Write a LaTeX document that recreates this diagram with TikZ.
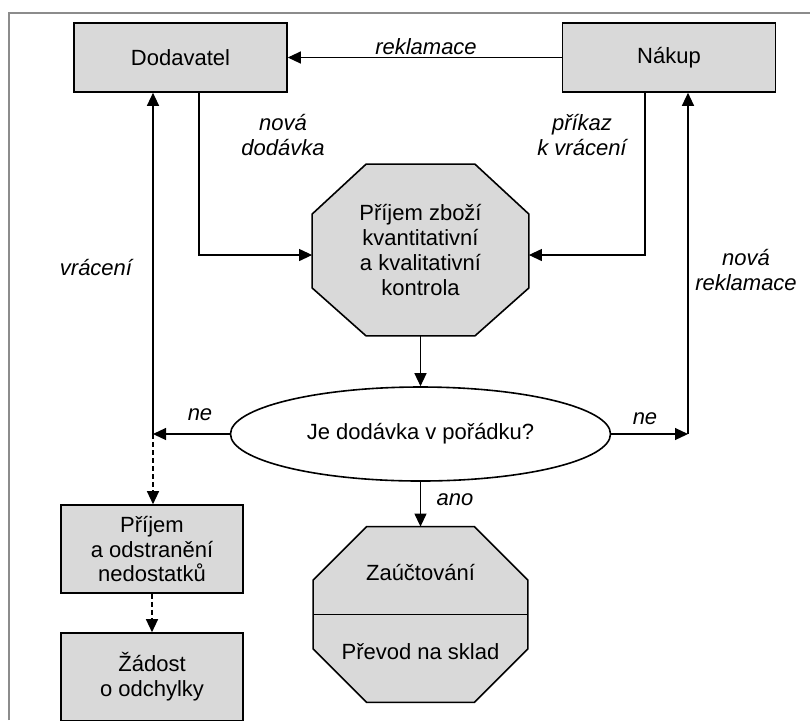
\documentclass[tikz,border=0pt]{standalone}
\usepackage{fontspec}
\setmainfont{Liberation Sans}
\usetikzlibrary{shapes.geometric, arrows.meta, backgrounds, calc}

\begin{document}
\begin{tikzpicture}[
    x=0.5pt, y=-0.5pt,
    box/.style={rectangle, draw, fill=black!15, line width=0.8pt, minimum width=91pt, minimum height=44pt, inner sep=0pt, align=center, font=\fontsize{11}{12.4}\selectfont},
    headbox/.style={box, minimum width=106.5pt, minimum height=34.5pt},
    octbox/.style={rectangle, inner sep=0pt, align=center, font=\fontsize{11}{12.4}\selectfont},
    octfill/.style={draw, fill=black!15, line width=0.8pt},
    decision/.style={ellipse, draw, fill=white, line width=0.8pt, minimum width=190pt, minimum height=47pt, inner sep=0pt, font=\fontsize{11}{12.4}\selectfont},
    arrow/.style={-{Triangle[length=6.5pt, width=6pt]}, line width=0.6pt},
    dasharrow/.style={arrow, dash pattern=on 2.5pt off 1.5pt},
    edgetext/.style={font=\fontsize{11}{12.4}\selectfont\itshape, align=center, inner sep=0pt}
]
    \useasboundingbox (0,0) rectangle (810,720);
    \draw[black!45, line width=0.8pt] (9,720) -- (9,13) -- (810,13);

    \node[headbox] (dod) at (180.5, 57.5) {Dodavatel};
    \node[headbox] (nak) at (669, 57.5) {Nákup};
    \node[octbox, minimum width=108pt, minimum height=85.5pt] (prijem) at (420.5, 250) {Příjem zboží\\kvantitativní\\a kvalitativní\\kontrola};
    \node[decision] (otazka) at (420.5, 434) {Je dodávka v pořádku?};
    \node[octbox, minimum width=107pt, minimum height=87.5pt] (post) at (420.5, 614.5) {};
    \node[octbox] (zauct) at (420.5, 572) {Zaúčtování};
    \node[octbox] (prevod) at (420.5, 652) {Převod na sklad};
    \node[box] (odstr) at (152, 549) {Příjem\\a odstranění\\nedostatků};
    \node[box] (zadost) at (152, 677) {Žádost\\o odchylky};

    \begin{scope}[on background layer]
        \draw[octfill] ($(prijem.north west)+(54,0)$) -- ($(prijem.north east)+(-54,0)$) -- ($(prijem.north east)+(0,50)$) -- ($(prijem.south east)+(0,-48)$) -- ($(prijem.south east)+(-54,0)$) -- ($(prijem.south west)+(54,0)$) -- ($(prijem.south west)+(0,-48)$) -- ($(prijem.north west)+(0,50)$) -- cycle;
        \draw[octfill] ($(post.north west)+(53.5,0)$) -- ($(post.north east)+(-53.5,0)$) -- ($(post.north east)+(0,53.5)$) -- ($(post.south east)+(0,-53.5)$) -- ($(post.south east)+(-53.5,0)$) -- ($(post.south west)+(53.5,0)$) -- ($(post.south west)+(0,-53.5)$) -- ($(post.north west)+(0,53.5)$) -- cycle;
    \end{scope}
    \draw[line width=0.8pt] (post.west) -- (post.east);

    \coordinate (nl) at (153, 434);
    \coordinate (nr) at (688, 434);

    \draw[arrow] (nak.west) -- (dod.east);
    \draw[arrow] ([xshift=9.25pt]dod.south) |- ([yshift=-2.5pt]prijem.west);
    \draw[arrow] ([xshift=-12pt]nak.south) |- ([yshift=-2.5pt]prijem.east);
    \draw[arrow] (prijem.south) -- (otazka.north);
    \draw[arrow] (otazka.west) -- (nl);
    \draw[arrow] (otazka.east) -- (nr);
    \draw[arrow] (nl) -- (nl |- dod.south);
    \draw[arrow] (nr) -- (nr |- nak.south);
    \draw[dasharrow] (nl) -- (nl |- odstr.north);
    \draw[dasharrow] (odstr.south) -- (zadost.north);
    \draw[arrow] (otazka.south) -- (post.north);

    \node[edgetext] (reklamace) at (426, 47) {reklamace};
    \node[edgetext] (novadod) at (283, 135) {nová\\dodávka};
    \node[edgetext] (prikaz) at (582, 135) {příkaz\\k vrácení};
    \node[edgetext] (vraceni) at (96, 267) {vrácení};
    \node[edgetext] (novarekl) at (746, 270) {nová\\reklamace};
    \node[edgetext] (neleft) at (200, 415) {ne};
    \node[edgetext] (neright) at (645, 419) {ne};
    \node[edgetext] (ano) at (455, 500) {ano};
\end{tikzpicture}
\end{document}
